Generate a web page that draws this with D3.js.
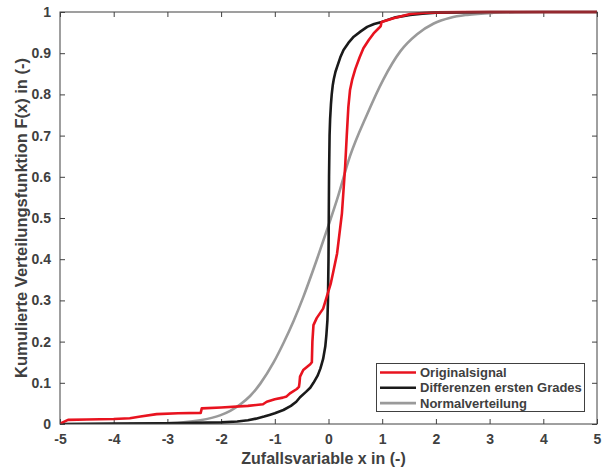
<!DOCTYPE html>
<html><head><meta charset="utf-8">
<script src="https://cdn.jsdelivr.net/npm/d3@7"></script>
<style>body{margin:0;background:#fff}svg{display:block}text{font-family:"Liberation Sans",Arial,sans-serif;font-weight:bold;fill:#404040}</style>
</head><body><svg id="c" width="605" height="469"></svg>
<script>
const xTicks = [-5,-4,-3,-2,-1,0,1,2,3,4,5];
const yTicks = [0,0.1,0.2,0.3,0.4,0.5,0.6,0.7,0.8,0.9,1];
const yTickLabels = ["0","0.1","0.2","0.3","0.4","0.5","0.6","0.7","0.8","0.9","1"];
const seriesNames = ["Originalsignal","Differenzen ersten Grades","Normalverteilung"];
const seriesColors = ["#e8131f","#1a1a1a","#9a9a9a"];

const origX = [-5,-4.95,-4.85,-4.5,-4,-3.7,-3.5,-3.2,-2.8,-2.38,-2.36,-2.0,-1.5,-1.22,-1.15,-1.0,-0.85,-0.78,-0.71,-0.59,-0.55,-0.54,-0.53,-0.47,-0.34,-0.31,-0.30,-0.28,-0.22,-0.1,-0.06,0.04,0.09,0.16,0.25,0.31,0.34,0.37,0.40,0.44,0.5,0.58,0.65,0.75,0.84,0.93,0.97,0.99,1.21,1.52,1.8,2.0,2.5,3,4,5];
const origY = [0,0.004,0.010,0.011,0.012,0.014,0.018,0.024,0.026,0.027,0.038,0.040,0.044,0.048,0.054,0.060,0.064,0.067,0.075,0.085,0.090,0.100,0.115,0.131,0.145,0.150,0.200,0.240,0.257,0.280,0.297,0.340,0.370,0.414,0.511,0.625,0.700,0.770,0.810,0.835,0.862,0.890,0.912,0.932,0.948,0.960,0.965,0.976,0.985,0.995,0.998,0.999,1,1,1,1];

const diffX = [-5,-4,-3,-2,-1.7,-1.5,-1.35,-1.2,-1.1,-1.0,-0.84,-0.7,-0.6,-0.53,-0.42,-0.34,-0.28,-0.2,-0.15,-0.1,-0.06,-0.04,-0.02,-0.01,-0.005,0,0.005,0.01,0.02,0.03,0.045,0.06,0.08,0.1,0.13,0.16,0.22,0.28,0.37,0.47,0.6,0.72,0.85,0.99,1.25,1.52,1.75,2.0,2.5,3,4,5];
const diffY = [0,0.001,0.002,0.004,0.006,0.009,0.013,0.018,0.022,0.026,0.034,0.044,0.054,0.065,0.078,0.088,0.100,0.118,0.135,0.158,0.188,0.215,0.252,0.300,0.350,0.400,0.500,0.600,0.700,0.740,0.775,0.800,0.823,0.838,0.855,0.867,0.890,0.908,0.925,0.940,0.953,0.964,0.971,0.976,0.987,0.993,0.996,0.998,0.999,1,1,1];

const normX = [-3.72,-3.3,-3.0,-2.7,-2.39,-2.02,-1.83,-1.64,-1.46,-1.27,-1.02,-0.84,-0.65,-0.47,-0.22,0.0,0.16,0.4,0.72,1.02,1.34,1.65,1.96,2.27,2.58,3.07,3.5,4,5];
const normY = [0,0.001,0.002,0.004,0.009,0.021,0.032,0.048,0.068,0.098,0.150,0.196,0.250,0.308,0.398,0.482,0.545,0.650,0.752,0.836,0.905,0.946,0.972,0.986,0.993,0.998,0.9995,1,1];

const W=605,H=469, L=60, R=597, T=12, B=424;
const svg=d3.select("#c");
const x=d3.scaleLinear().domain([-5,5]).range([L,R]);
const y=d3.scaleLinear().domain([0,1]).range([B,T]);
const axisColor="#404040";

svg.append("clipPath").attr("id","pc").append("rect").attr("x",L).attr("y",T-3).attr("width",R-L).attr("height",B-T+3);

function styleAxis(g){g.select(".domain").remove();g.selectAll("line").attr("stroke",axisColor).attr("stroke-width",1);g.selectAll("text").attr("font-size",14).attr("fill",axisColor).attr("font-weight","bold").attr("font-family","Liberation Sans, Arial, sans-serif");}

svg.append("g").attr("transform",`translate(0,${B})`).call(d3.axisBottom(x).tickValues(xTicks).tickSizeInner(-5).tickSizeOuter(0).tickPadding(10).tickFormat(d=>d)).call(styleAxis);
svg.append("g").attr("transform",`translate(0,${T})`).call(d3.axisTop(x).tickValues(xTicks).tickSizeInner(-5).tickSizeOuter(0).tickFormat("")).call(styleAxis);
svg.append("g").attr("transform",`translate(${L},0)`).call(d3.axisLeft(y).tickValues(yTicks).tickSizeInner(-5).tickSizeOuter(0).tickPadding(9).tickFormat((d,i)=>yTickLabels[i])).call(styleAxis);
svg.append("g").attr("transform",`translate(${R},0)`).call(d3.axisRight(y).tickValues(yTicks).tickSizeInner(-5).tickSizeOuter(0).tickFormat("")).call(styleAxis);

const line=d3.line().x(d=>x(d[0])).y(d=>y(d[1]));
const data=[d3.zip(origX,origY),d3.zip(diffX,diffY),d3.zip(normX,normY)];
const plotG=svg.append("g").attr("clip-path","url(#pc)");
[2,1,0].forEach(i=>{
  const lg = i===2 ? line.curve(d3.curveMonotoneX) : line.curve(d3.curveLinear);
  plotG.append("path").datum(data[i]).attr("d",lg).attr("fill","none").attr("stroke",seriesColors[i]).attr("stroke-width",2.6).attr("stroke-linejoin","round");
});

svg.append("rect").attr("x",L).attr("y",T).attr("width",R-L).attr("height",B-T).attr("fill","none").attr("stroke",axisColor).attr("stroke-width",1);

svg.append("text").attr("x",(L+R)/2-5).attr("y",464).attr("text-anchor","middle").attr("font-size",16).text("Zufallsvariable x in (-)");
svg.append("text").attr("transform",`translate(27,${(T+B)/2}) rotate(-90)`).attr("text-anchor","middle").attr("font-size",16.5).text("Kumulierte Verteilungsfunktion F(x) in (-)");

const lg=svg.append("g");
lg.append("rect").attr("x",376.5).attr("y",363.5).attr("width",208).attr("height",48).attr("fill","#fff").attr("stroke",axisColor).attr("stroke-width",1);
seriesNames.forEach((n,i)=>{
  const yy=372.5+i*15.3;
  lg.append("line").attr("x1",380).attr("x2",416).attr("y1",yy).attr("y2",yy).attr("stroke",seriesColors[i]).attr("stroke-width",2.6);
  lg.append("text").attr("x",420).attr("y",yy+4.5).attr("font-size",13).attr("fill","#1a1a1a").text(n);
});
</script></body></html>
